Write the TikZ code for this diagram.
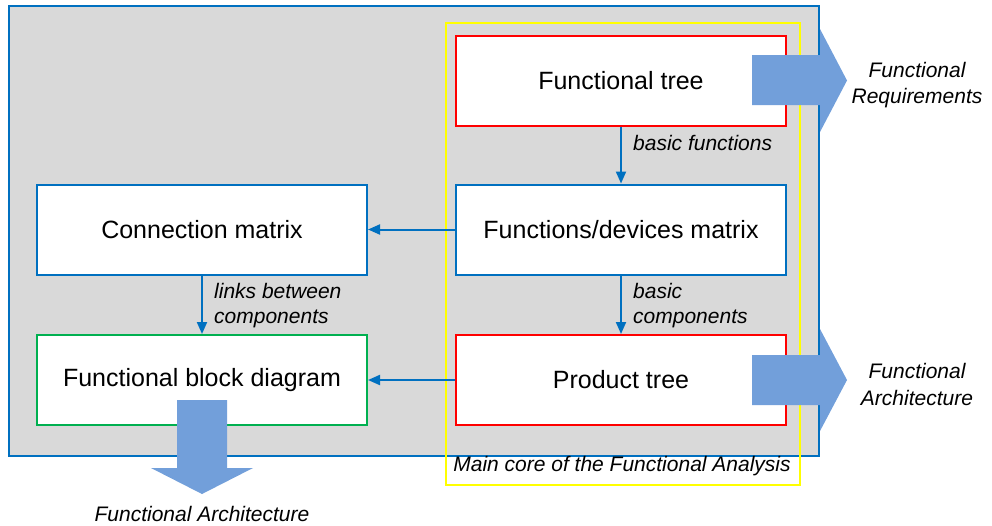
\documentclass[tikz,border=0pt]{standalone}
\usepackage{fontspec}
\setmainfont{Liberation Sans}
\usetikzlibrary{arrows.meta}
\definecolor{oblue}{RGB}{0,112,192}
\definecolor{ogray}{RGB}{217,217,217}
\definecolor{ored}{RGB}{255,0,0}
\definecolor{ogreen}{RGB}{0,176,80}
\definecolor{oyellow}{RGB}{255,255,0}
\definecolor{bigarrow}{RGB}{114,159,218}
\tikzset{
  boxnode/.style={draw, line width=2pt, fill=white, minimum width=330pt, minimum height=90pt, inner sep=0pt, font=\fontsize{25}{30}\selectfont},
  lbl/.style={font=\fontsize{21}{25}\selectfont\itshape, align=left, inner sep=0pt},
  outlbl/.style={font=\fontsize{21}{26.5}\selectfont\itshape, align=center, inner sep=0pt},
  flow/.style={draw=oblue, line width=2pt, -{Triangle[width=10pt,length=12pt]}},
  bigarr/.style={fill=bigarrow, draw=none}
}
\begin{document}
\begin{tikzpicture}[x=1pt,y=-1pt]
\useasboundingbox (0,0) rectangle (992,525);
% background panel
\node[draw=oblue, line width=2pt, fill=ogray, minimum width=810pt, minimum height=450pt, inner sep=0pt, anchor=north west] (panel) at (8,5) {};
% yellow core frame
\node[draw=oyellow, line width=2pt, minimum width=354pt, minimum height=462pt, inner sep=0pt, anchor=north west] (core) at (445,22) {};
\node[lbl] (corelbl) at (622,466) {Main core of the Functional Analysis};
% boxes
\node[boxnode, draw=ored] (ft) at (621,80.5) {Functional tree};
\node[boxnode, draw=oblue] (fdm) at (621,229.5) {Functions/devices matrix};
\node[boxnode, draw=ored] (pt) at (621,380) {Product tree};
\node[boxnode, draw=oblue] (cm) at (202,229.5) {Connection matrix};
\node[boxnode, draw=ogreen] (fbd) at (202,380) {Functional block diagram};
% connectors
\draw[flow] (ft.south) -- (fdm.north);
\draw[flow] (fdm.south) -- (pt.north);
\draw[flow] (cm.south) -- (fbd.north);
\draw[flow] (fdm.west) -- (cm.east);
\draw[flow] (pt.west) -- (fbd.east);
% connector labels
\node[lbl, anchor=west] (l1) at (633,143) {basic functions};
\node[lbl, anchor=west] (l2) at (633,306) {basic\\components};
\node[lbl, anchor=west] (l3) at (214,306) {links between\\components};
% big block arrows
\fill[bigarr] (752,55) -- (820,55) -- (820,29) -- (847,80.5) -- (820,132) -- (820,105) -- (752,105) -- cycle;
\fill[bigarr] (752,355) -- (820,355) -- (820,329) -- (847,380) -- (820,431) -- (820,405) -- (752,405) -- cycle;
\fill[bigarr] (177,400) -- (227,400) -- (227,468) -- (253,468) -- (202,494) -- (151,468) -- (177,468) -- cycle;
% outputs
\node[outlbl] (o1) at (917,85) {Functional\\Requirements};
\node[outlbl] (o2) at (917,384.5) {Functional\\Architecture};
\node[outlbl] (o3) at (202,514) {Functional Architecture};
\end{tikzpicture}
\end{document}
